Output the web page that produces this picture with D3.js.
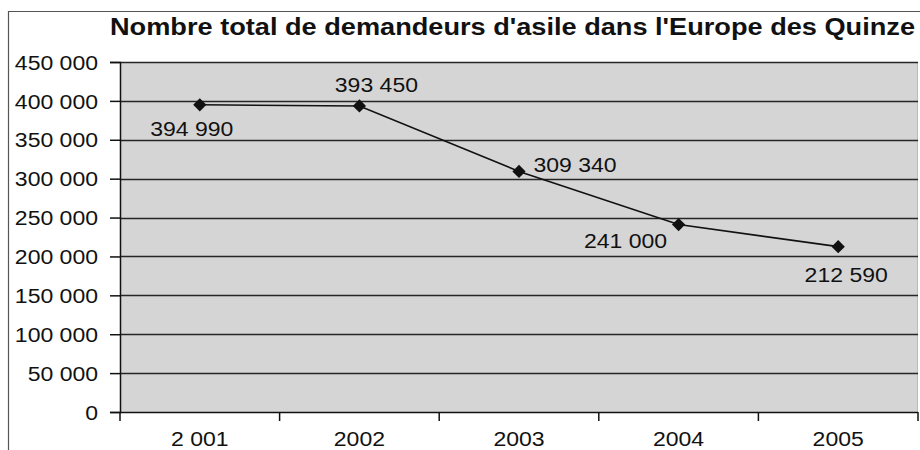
<!DOCTYPE html>
<html>
<head>
<meta charset="utf-8">
<script src="https://cdn.jsdelivr.net/npm/d3@7"></script>
<style>
  body { margin: 0; background: #fff; }
  text { font-family: "Liberation Sans", Arial, sans-serif; fill: #111; }
</style>
</head>
<body>
<svg id="chart" width="920" height="450"></svg>
<script>
var title = "Nombre total de demandeurs d'asile dans l'Europe des Quinze";
var years = ["2 001", "2002", "2003", "2004", "2005"];
var asylum = [394990, 393450, 309340, 241000, 212590];
var yTicks = [0, 50000, 100000, 150000, 200000, 250000, 300000, 350000, 400000, 450000];

// where each value label sits relative to its point
var labelDx = [-8, 17, 56, -53, 8];
var labelDy = [31, -14, 1, 23, 35];

var STRETCH = 1.15; // the picture is a bit wider than the font

var svg = d3.select('#chart');
var plotL = 120, plotR = 918, plotT = 62, plotB = 412;

var fr = d3.formatLocale({ decimal: ",", thousands: " ", grouping: [3], currency: ["", ""] });
var fmt = fr.format(",d");

var x = d3.scaleBand().domain(years).range([plotL, plotR]);
var y = d3.scaleLinear().domain([0, 450000]).range([plotB, plotT]);

function widen(sel, k) {
  sel.each(function() {
    var w = this.getComputedTextLength();
    d3.select(this).attr('textLength', w * k).attr('lengthAdjust', 'spacingAndGlyphs');
  });
}

// outer frame
svg.append('path')
  .attr('d', 'M8.5,450 L8.5,11.5 L920,11.5')
  .attr('fill', 'none').attr('stroke', '#555').attr('stroke-width', 1.2);

// plot area
svg.append('rect')
  .attr('x', plotL).attr('y', plotT)
  .attr('width', plotR - plotL).attr('height', plotB - plotT)
  .attr('fill', '#d5d5d5');
svg.append('line')
  .attr('x1', plotR - 0.5).attr('x2', plotR - 0.5).attr('y1', plotT).attr('y2', plotB)
  .attr('stroke', '#bbb');

// grid lines
svg.append('g').selectAll('line')
  .data(yTicks.slice(1))
  .enter().append('line')
  .attr('x1', plotL).attr('x2', plotR)
  .attr('y1', function(d) { return Math.round(y(d)) + 0.5; })
  .attr('y2', function(d) { return Math.round(y(d)) + 0.5; })
  .attr('stroke', '#262626').attr('stroke-width', 1.6);

// y axis
var yAxis = svg.append('g')
  .attr('transform', 'translate(' + plotL + ',0)')
  .call(d3.axisLeft(y).tickValues(yTicks).tickFormat(fmt).tickSize(10).tickPadding(12));
yAxis.select('.domain').attr('stroke', '#111').attr('stroke-width', 1.5);
yAxis.selectAll('.tick line').attr('stroke', '#111').attr('stroke-width', 1.5);
yAxis.selectAll('.tick text')
  .attr('font-size', 20).attr('dy', '0.36em')
  .style('font-family', '"Liberation Sans", Arial, sans-serif').attr('fill', '#111')
  .call(widen, STRETCH);

// x axis: ticks on the category edges
var edges = years.map(function(d) { return x(d); }).concat([plotR]);
var xg = svg.append('g');
xg.append('line')
  .attr('x1', plotL).attr('x2', plotR)
  .attr('y1', plotB + 0.5).attr('y2', plotB + 0.5)
  .attr('stroke', '#111').attr('stroke-width', 1.5);
xg.selectAll('line.tk')
  .data(edges)
  .enter().append('line').attr('class', 'tk')
  .attr('x1', function(d) { return d; }).attr('x2', function(d) { return d; })
  .attr('y1', plotB).attr('y2', plotB + 9)
  .attr('stroke', '#111').attr('stroke-width', 1.5);
xg.selectAll('text')
  .data(years)
  .enter().append('text')
  .attr('x', function(d) { return x(d) + x.bandwidth() / 2; })
  .attr('y', 446)
  .attr('text-anchor', 'middle')
  .attr('font-size', 20)
  .text(function(d) { return d; })
  .call(widen, STRETCH);

// the line
var cx = function(d, i) { return x(years[i]) + x.bandwidth() / 2; };
var line = d3.line()
  .x(cx)
  .y(function(d) { return y(d); });
svg.append('path')
  .datum(asylum)
  .attr('d', line)
  .attr('fill', 'none').attr('stroke', '#111').attr('stroke-width', 1.6);

svg.append('g').selectAll('path')
  .data(asylum)
  .enter().append('path')
  .attr('d', d3.symbol().type(d3.symbolSquare).size(88))
  .attr('transform', function(d, i) {
    return 'translate(' + cx(d, i) + ',' + y(d) + ') rotate(45)';
  })
  .attr('fill', '#111');

// value labels
svg.append('g').selectAll('text')
  .data(asylum)
  .enter().append('text')
  .attr('x', function(d, i) { return cx(d, i) + labelDx[i]; })
  .attr('y', function(d, i) { return y(d) + labelDy[i]; })
  .attr('text-anchor', 'middle')
  .attr('font-size', 20)
  .text(function(d) { return fmt(d); })
  .call(widen, STRETCH);

// title
svg.append('text')
  .attr('x', 110).attr('y', 35)
  .attr('font-size', 23).attr('font-weight', 'bold')
  .text(title)
  .attr('textLength', 805).attr('lengthAdjust', 'spacingAndGlyphs');
</script>
</body>
</html>
